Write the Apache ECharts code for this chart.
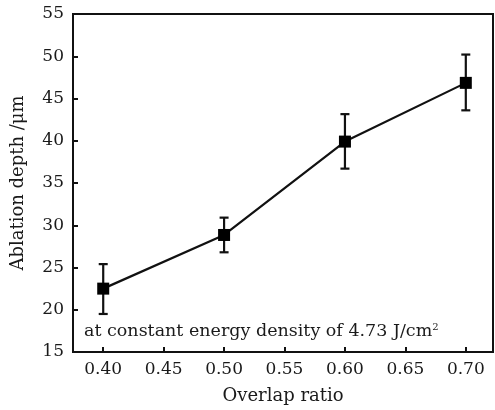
<!DOCTYPE html>
<html>
<head>
<meta charset="utf-8">
<script src="https://cdn.jsdelivr.net/npm/echarts@6/dist/echarts.min.js"></script>
<style>
  html, body { margin: 0; padding: 0; background: #fff; }
  #chart { width: 495px; height: 410px; }
</style>
</head>
<body>
<div id="chart"></div>
<script>
// overlap ratio vs ablation depth
const overlap = [0.40, 0.50, 0.60, 0.70]
const depth = [22.5, 28.85, 39.9, 46.85]
const errLow = [19.5, 26.8, 36.7, 43.6]
const errHigh = [25.4, 30.9, 43.15, 50.2]
const xTicks = [0.40, 0.45, 0.50, 0.55, 0.60, 0.65, 0.70]

const font = 'DejaVu Serif'
const chart = echarts.init(document.getElementById('chart'))

const option = {
  animation: false,
  grid: {
    left: 73,
    right: 2,
    top: 14,
    bottom: 56,
    show: true,
    borderColor: '#111',
    borderWidth: 2,
  },
  xAxis: {
    type: 'value',
    min: 0.375,
    max: 0.7225,
    name: 'Overlap ratio',
    nameLocation: 'middle',
    nameGap: 35,
    nameTextStyle: { fontFamily: font, fontSize: 18, color: '#1a1a1a' },
    axisLine: { show: true, lineStyle: { color: '#111', width: 2 } },
    axisTick: {
      show: true,
      inside: true,
      length: 5,
      customValues: xTicks,
      lineStyle: { color: '#111', width: 2 },
    },
    axisLabel: {
      customValues: xTicks,
      formatter: (v) => v.toFixed(2),
      fontFamily: font,
      fontSize: 17,
      color: '#1a1a1a',
      margin: 9,
    },
    splitLine: { show: false },
  },
  yAxis: {
    type: 'value',
    min: 15,
    max: 55,
    interval: 5,
    name: 'Ablation depth /μm',
    nameLocation: 'middle',
    nameGap: 46,
    nameTextStyle: { fontFamily: font, fontSize: 18, color: '#1a1a1a' },
    axisLine: { show: true, lineStyle: { color: '#111', width: 2 } },
    axisTick: {
      show: true,
      inside: true,
      length: 5,
      lineStyle: { color: '#111', width: 2 },
    },
    axisLabel: {
      fontFamily: font,
      fontSize: 17,
      color: '#1a1a1a',
      margin: 9,
    },
    splitLine: { show: false },
  },
  series: [
    {
      type: 'line',
      data: overlap.map((x, i) => [x, depth[i]]),
      symbol: 'rect',
      symbolSize: 12,
      itemStyle: { color: '#000' },
      lineStyle: { color: '#111', width: 2.2 },
      z: 3,
    },
    {
      type: 'custom',
      data: overlap.map((x, i) => [x, errLow[i], errHigh[i]]),
      renderItem: (params, api) => {
        const lo = api.coord([api.value(0), api.value(1)])
        const hi = api.coord([api.value(0), api.value(2)])
        const w = 4.5
        const style = { stroke: '#111', lineWidth: 2.2 }
        return {
          type: 'group',
          children: [
            { type: 'line', shape: { x1: lo[0], y1: lo[1], x2: hi[0], y2: hi[1] }, style },
            { type: 'line', shape: { x1: lo[0] - w, y1: lo[1], x2: lo[0] + w, y2: lo[1] }, style },
            { type: 'line', shape: { x1: hi[0] - w, y1: hi[1], x2: hi[0] + w, y2: hi[1] }, style },
          ],
        }
      },
      z: 2,
    },
  ],
  graphic: [
    {
      type: 'text',
      left: 84,
      top: 322,
      style: {
        text: 'at constant energy density of 4.73 J/cm{sup|2}',
        fontFamily: font,
        fontSize: 17.5,
        fill: '#1a1a1a',
        rich: {
          sup: { fontFamily: font, fontSize: 10, verticalAlign: 'top', padding: [0, 0, 9, 0] },
        },
      },
    },
  ],
}
chart.setOption(option)
</script>
</body>
</html>
